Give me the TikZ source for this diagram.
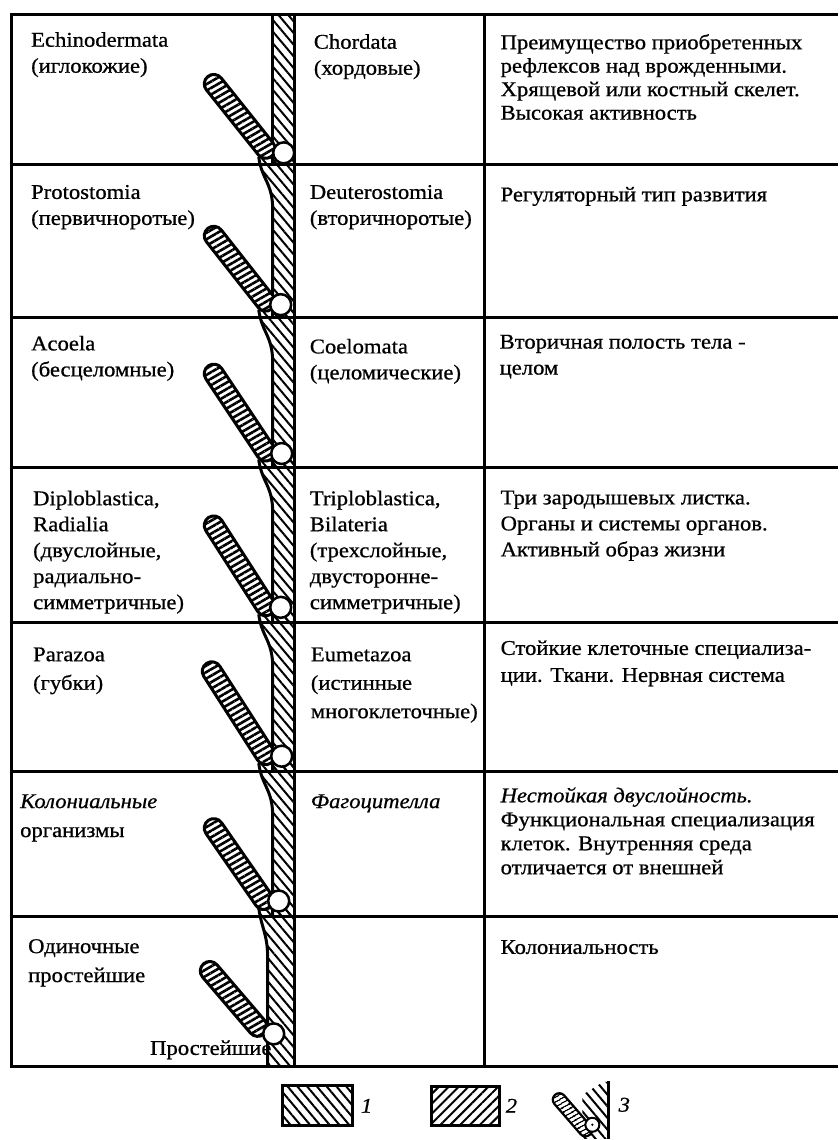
\documentclass[tikz,border=0pt]{standalone}
\usepackage{fontspec}
\setmainfont{Liberation Serif}[FakeStretch=1.08,FakeBold=0.7]
\usetikzlibrary{patterns.meta,shapes.misc}
\begin{document}
\begin{tikzpicture}[x=1pt,y=-1pt,
  tbl/.style={line width=3pt},
  outl/.style={line width=3pt},
  stemfill/.style={pattern={Lines[angle=-50,distance=7.5pt,line width=2pt]}},
  brfill/.style={pattern={Lines[angle=30,distance=5.6pt,line width=2.6pt]}},
  branch/.style={rounded rectangle, draw, line width=3pt, minimum height=19pt, inner sep=0pt, preaction={fill=white}, brfill},
  junction/.style={circle, draw, fill=white, line width=2.5pt, minimum size=21pt, inner sep=0pt},
  txt/.style={anchor=north west, inner sep=0pt, align=left, font=\fontsize{21pt}{26pt}\selectfont},
  num/.style={inner sep=0pt, font=\itshape\fontsize{21pt}{21pt}\selectfont},
]
\fill[white] (0,0) rectangle (839,1140);

% ---- stems ----
\path[stemfill] (273,15) -- (273,165) -- (295,165) -- (295,15) -- cycle;
\draw[outl] (273,15) -- (273,165);
\foreach \t/\b in {165/318,318/468,468/623,623/772,772/917}{
  \path[stemfill] (259,\t-8) .. controls (262,\t+15) and (273,\t+18) .. (273,\t+45) -- (273,\b) -- (295,\b) -- (295,\t-8) -- cycle;
  \draw[outl] (259,\t-8) .. controls (262,\t+15) and (273,\t+18) .. (273,\t+45) -- (273,\b);
}
\path[stemfill] (259,909) .. controls (262,930) and (268,935) .. (268,960) -- (268,1068) -- (295,1068) -- (295,909) -- cycle;
\draw[outl] (259,909) .. controls (262,930) and (268,935) .. (268,960) -- (268,1068);

% ---- branches ----
\foreach \i/\tx/\ty/\bx/\by in {1/214/84/266/149, 2/214/236/266/302, 3/214/374/266/452, 4/214/526/266/607, 5/212/672/266/756, 6/214/829/264/901, 7/210/972/258/1028}{
  \pgfmathsetmacro{\L}{veclen(\bx-\tx,\by-\ty)+19}
  \path (\tx,\ty) -- (\bx,\by) node[branch, midway, sloped, minimum width=\L pt] (br\i) {};
}

% ---- table ----
\foreach \y in {15,165,318,468,623,772,917,1068}{
  \draw[tbl] (10.5,\y) -- (839,\y);
}
\draw[tbl] (12,13.5) -- (12,1069.5);
\draw[tbl] (295,13.5) -- (295,1069.5);
\draw[tbl] (485,13.5) -- (485,1069.5);

% ---- junction circles ----
\foreach \i/\cx/\cy in {1/284/153, 2/281/305, 3/282/454, 4/281/608, 5/282/757, 6/279/902, 7/274/1035}{
  \node[junction] (c\i) at (\cx,\cy) {};
}

% ---- texts ----
\node[txt] (l1) at (31,32) {Echinodermata\\(иглокожие)};
\node[txt] (m1) at (314,34) {Chordata\\(хордовые)};
\node[txt, font=\fontsize{21pt}{23.5pt}\selectfont] (r1) at (501,34) {Преимущество приобретенных\\рефлексов над врожденными.\\Хрящевой или костный скелет.\\Высокая активность};

\node[txt] (l2) at (31,185) {Protostomia\\(первичноротые)};
\node[txt] (m2) at (310,185) {Deuterostomia\\(вторичноротые)};
\node[txt] (r2) at (501,187) {Регуляторный тип развития};

\node[txt] (l3) at (31,336) {Acoela\\(бесцеломные)};
\node[txt] (m3) at (310,339) {Coelomata\\(целомические)};
\node[txt] (r3) at (500,335) {Вторичная полость тела -\\целом};

\node[txt] (l4) at (33,491) {Diploblastica,\\Radialia\\(двуслойные,\\радиально-\\симметричные)};
\node[txt] (m4) at (310,491) {Triploblastica,\\Bilateria\\(трехслойные,\\двусторонне-\\симметричные)};
\node[txt] (r4) at (501,491) {Три зародышевых листка.\\Органы и системы органов.\\Активный образ жизни};

\node[txt, font=\fontsize{21pt}{28.5pt}\selectfont] (l5) at (33,648) {Parazoa\\(губки)};
\node[txt, font=\fontsize{21pt}{28.5pt}\selectfont] (m5) at (311,648) {Eumetazoa\\(истинные\\многоклеточные)};
\node[txt, font=\fontsize{21pt}{27pt}\selectfont] (r5) at (501,641) {Стойкие клеточные специализа-\\ции. Ткани. Нервная система};

\node[txt, font=\fontsize{21pt}{29pt}\selectfont] (l6) at (20,795) {\textit{Колониальные}\\организмы};
\node[txt] (m6) at (311,795) {\textit{Фагоцителла}};
\node[txt, font=\fontsize{21pt}{24pt}\selectfont] (r6) at (501,788) {\textit{Нестойкая двуслойность.}\\Функциональная специализация\\клеток. Внутренняя среда\\отличается от внешней};

\node[txt, font=\fontsize{21pt}{29pt}\selectfont] (l7) at (28,940) {Одиночные\\простейшие};
\node[txt] (r7) at (501,941) {Колониальность};

\node[anchor=base east, inner sep=0pt, font=\fontsize{21pt}{21pt}\selectfont] (prost) at (272,1056) {Простейшие};

% ---- legend ----
\draw[outl, stemfill] (283,1087) rectangle (353,1127);
\node[num] (n1) at (367,1107) {1};
\draw[outl, pattern={Lines[angle=45,distance=7pt,line width=2pt]}] (432,1088) rectangle (500,1127);
\node[num] (n2) at (512,1107) {2};

\path[stemfill] (583,1140) -- (583,1096) -- (604,1083) -- (609,1083) -- (609,1140) -- cycle;
\draw[line width=2.5pt] (609,1082) -- (609,1140);
\path (560,1101) -- (586,1131) node[midway, sloped, rounded rectangle, draw, line width=2.2pt, minimum height=13pt, minimum width=53pt, inner sep=0pt, preaction={fill=white}, pattern={Lines[angle=30,distance=4pt,line width=1.8pt]}] (lb) {};
\node[junction, minimum size=14pt, line width=2pt] (lc) at (593,1126) {};
\fill (lc.center) circle (1.3pt);
\node[num] (n3) at (625,1106) {3};
\end{tikzpicture}
\end{document}
